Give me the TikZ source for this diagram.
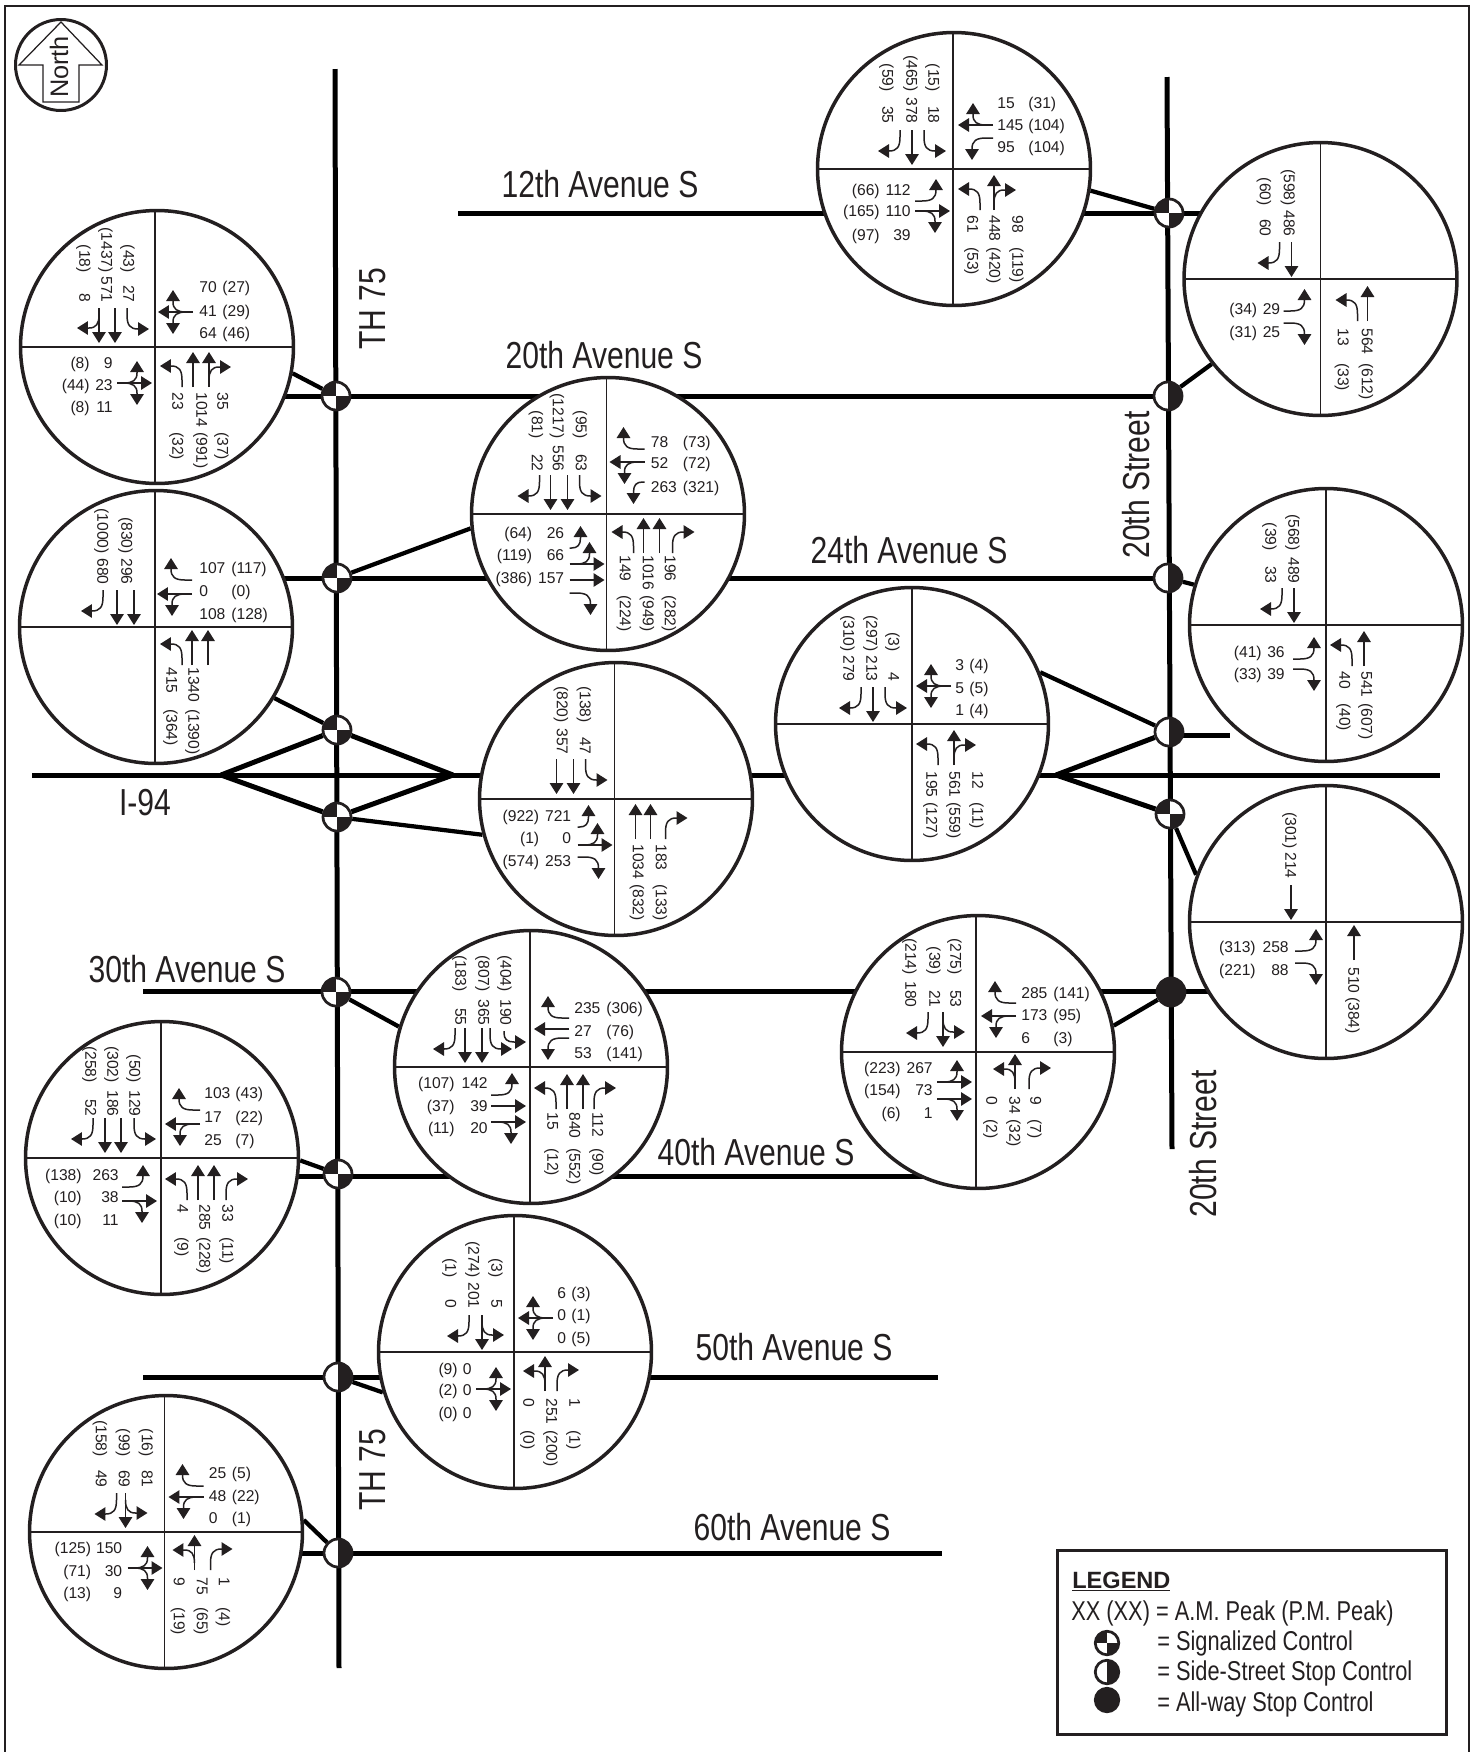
\documentclass[tikz,border=0pt]{standalone}
\usepackage{fontspec}
\setmainfont{Liberation Sans}
\newfontfamily\roadfont[FakeStretch=0.8]{Liberation Sans}
\usetikzlibrary{arrows.meta,backgrounds}
\definecolor{inkc}{HTML}{231F20}

% turning movements, tail at the origin, heading up the page
\tikzset{
  thruarr/.pic={\draw[mv] (0,0) -- (0,-35);},
  ltarr/.pic={\draw[mv] (0,0) -- (0,-7) .. controls (0,-17) and (-3,-21) .. (-11,-21) -- (-22,-21);},
  rtarr/.pic={\draw[mv] (0,0) -- (0,-7) .. controls (0,-17) and (3,-21) .. (11,-21) -- (22,-21);},
  lsarr/.pic={\draw[mv] (0,0) -- (0,-2) .. controls (0,-8) and (-3,-11) .. (-10,-11) -- (-22,-11);},
  tlarr/.pic={\draw[mv] (0,0) -- (0,-35);
    \draw[mv] (0,-7) .. controls (0,-16) and (-3,-20) .. (-10,-20) -- (-22,-20);},
  trarr/.pic={\draw[mv] (0,0) -- (0,-35);
    \draw[mv] (0,-7) .. controls (0,-16) and (3,-20) .. (10,-20) -- (22,-20);},
  tlrarr/.pic={\draw[mv] (0,0) -- (0,-35);
    \draw[mv] (0,-7) .. controls (0,-16) and (-3,-20) .. (-10,-20) -- (-22,-20);
    \draw[mv] (0,-7) .. controls (0,-16) and (3,-20) .. (10,-20) -- (22,-20);},
  % ring sits a little off its cross: the value is that offset
  isect/.style={circle, draw, fill=white, line width=0.07cm, minimum size=5.46cm, inner sep=0pt,
    path picture={\draw[line width=0.024cm] ([xshift=-#1*0.02cm]path picture bounding box.north) -- ([xshift=-#1*0.02cm]path picture bounding box.south);
      \draw[line width=0.024cm] (path picture bounding box.west) -- (path picture bounding box.east);}},
  isect/.default=0
}

% approach arrows: tail distance from the centre, then lane/kind list
\newcommand{\sbarr}[2]{\foreach \lane/\kind in {#2}{\pic[rotate=180] at (\lane,-#1) {\kind};}}
\newcommand{\nbarr}[2]{\foreach \lane/\kind in {#2}{\pic at (\lane,#1) {\kind};}}
\newcommand{\wbarr}[2]{\foreach \lane/\kind in {#2}{\pic[rotate=90] at (#1,\lane) {\kind};}}
\newcommand{\ebarr}[2]{\foreach \lane/\kind in {#2}{\pic[rotate=-90] at (-#1,\lane) {\kind};}}

% volumes: edge of A.M. column, edge of P.M. column, then place/am/pm list
\newcommand{\sbnum}[3]{\foreach \lane/\amv/\pmv in {#3}{
  \node[numv,anchor=east] (s\lane-am) at (\lane,#1) {\amv};
  \node[numv,anchor=east] (s\lane-pm) at (\lane,#2) {(\pmv)};}}
\newcommand{\nbnum}[3]{\foreach \lane/\amv/\pmv in {#3}{
  \node[numv,anchor=west] (n\lane-am) at (\lane,#1) {\amv};
  \node[numv,anchor=west] (n\lane-pm) at (\lane,#2) {(\pmv)};}}
\newcommand{\wbnum}[3]{\foreach \lane/\amv/\pmv in {#3}{
  \node[numh,anchor=west] (w\lane-am) at (#1,\lane) {\amv};
  \node[numh,anchor=west] (w\lane-pm) at (#2,\lane) {(\pmv)};}}
\newcommand{\ebnum}[3]{\foreach \lane/\amv/\pmv in {#3}{
  \node[numh,anchor=east] (e\lane-am) at (#1,\lane) {\amv};
  \node[numh,anchor=east] (e\lane-pm) at (#2,\lane) {(\pmv)};}}

\begin{document}
\begin{tikzpicture}[x=0.02cm,y=-0.02cm,color=inkc]
  \tikzstyle{mv}=[line width=0.03cm, -{Triangle[length=0.22cm,width=0.27cm]}]
  \tikzstyle{numh}=[inner sep=0pt, text height=8pt, text depth=1.6pt, font=\fontsize{8.9}{10}\selectfont]
  \tikzstyle{numv}=[numh, rotate=-90]
  \tikzstyle{ctl}=[circle, draw, fill=white, line width=0.055cm, minimum size=0.56cm, inner sep=0pt]
  \tikzstyle{sigctl}=[ctl, path picture={\fill[inkc] (path picture bounding box.center) rectangle (path picture bounding box.north west);
      \fill[inkc] (path picture bounding box.center) rectangle (path picture bounding box.south east);}]
  \tikzstyle{halfctl}=[ctl, path picture={\fill[inkc] (path picture bounding box.north) rectangle (path picture bounding box.south east);}]
  \tikzstyle{allctl}=[ctl, fill=inkc]
  \tikzstyle{road}=[line width=0.1cm]
  \tikzstyle{link}=[line width=0.085cm]
  \tikzstyle{roadname}=[inner sep=0pt, font=\roadfont\fontsize{21.4}{24}\selectfont]
  \tikzstyle{legendtext}=[inner sep=0pt, anchor=base west, font=\roadfont\fontsize{15.5}{18}\selectfont]

  \useasboundingbox (0,0) rectangle (1478,1752);
  \draw[line width=0.04cm] (5,1752) -- (5,6) -- (1469,6) -- (1469,1752);

  % north arrow
  \node[circle, draw, line width=0.06cm, minimum size=1.82cm, inner sep=0pt] (northring) at (61,65) {};
  \draw[line width=0.025cm] (61,22) -- (102,65) -- (79,65) -- (79,102) -- (43,102) -- (43,65) -- (19,65) -- cycle;
  \node[rotate=90, inner sep=0pt, font=\fontsize{14.4}{16}\selectfont] (northtext) at (59,67) {North};

  % intersections
  \begin{scope}[shift={(155,347)},name prefix=th20-]
    \node[isect=2] (c) at (2,0) {};
    \sbarr{39}{-56/trarr,-40/thruarr,-28/ltarr}
    \wbarr{38}{-35/tlrarr}
    \ebarr{38}{36/tlrarr}
    \nbarr{40}{27/ltarr,38/thruarr,54/trarr}
    \sbnum{-44}{-74}{-70/8/18,-48/571/1437,-26/27/43}
    \wbnum{44}{67}{-60/70/27,-36/41/29,-14/64/46}
    \ebnum{-42}{-65}{16/9/8,38/23/44,60/11/8}
    \nbnum{45}{85}{23/23/32,47/1014/991,68/35/37}
  \end{scope}
  \begin{scope}[shift={(953,169)},name prefix=ave12-]
    \node[isect=1] (c) at (1,0) {};
    \sbarr{39}{-53/rtarr,-41/thruarr,-29/ltarr}
    \wbarr{40}{-44/trarr,-31/ltarr}
    \ebarr{38}{32/ltarr,42/trarr}
    \nbarr{41}{27/ltarr,41/trarr}
    \sbnum{-45}{-77}{-65/35/59,-41/378/465,-19/18/15}
    \wbnum{44}{75}{-66/15/31,-44/145/104,-22/95/104}
    \ebnum{-42}{-73}{21/112/66,42/110/165,66/39/97}
    \nbnum{46}{78}{20/61/53,42/448/420,65/98/119}
  \end{scope}
  \begin{scope}[shift={(1320.5,279)},name prefix=st12-]
    \node[isect] (c) at (0,0) {};
    \sbarr{37}{-41/rtarr,-29/thruarr}
    \ebarr{37}{32/ltarr,44/rtarr}
    \nbarr{42}{37/ltarr,47/thruarr}
    \sbnum{-42}{-73}{-55/60/60,-31/486/598}
    \ebnum{-40}{-63}{30/29/34,53/25/31}
    \nbnum{49}{84}{23/13/33,47/564/612}
  \end{scope}
  \begin{scope}[shift={(606.5,514)},name prefix=ave20-]
    \node[isect=1.5] (c) at (1.5,0) {};
    \sbarr{39}{-67/rtarr,-56/thruarr,-39/thruarr,-27/ltarr}
    \wbarr{38}{-65/rtarr,-52/tlarr,-32/lsarr}
    \ebarr{37}{34/lsarr,50/tlarr,66/thruarr,79/rtarr}
    \nbarr{39}{27/ltarr,37/thruarr,53/thruarr,66/rtarr}
    \sbnum{-42}{-75}{-69/22/81,-48/556/1217,-25/63/95}
    \wbnum{44}{76}{-72/78/73,-51/52/72,-27/263/321}
    \ebnum{-42}{-74}{19/26/64,41/66/119,64/157/386}
    \nbnum{41}{81}{19/149/224,42/1016/949,64/196/282}
  \end{scope}
  \begin{scope}[shift={(155,627)},name prefix=th24-]
    \node[isect=1] (c) at (1,0) {};
    \sbarr{37}{-52/rtarr,-38/thruarr,-21/thruarr}
    \wbarr{37}{-47/rtarr,-33/tlarr}
    \nbarr{38}{27/ltarr,37/thruarr,53/thruarr}
    \sbnum{-42}{-73}{-52/680/1000,-28/296/830}
    \wbnum{44}{76}{-59/107/117,-36/0/0,-13/108/128}
    \nbnum{40}{82}{17/415/364,39/1340/1390}
  \end{scope}
  \begin{scope}[shift={(614.5,799)},name prefix=ramw-]
    \node[isect=1.5] (c) at (1.5,0) {};
    \sbarr{40}{-58/thruarr,-41/thruarr,-29/ltarr}
    \ebarr{37}{28/lsarr,46/tlarr,58/rtarr}
    \nbarr{40}{21/thruarr,36/thruarr,51/rtarr}
    \sbnum{-44}{-76}{-52/357/820,-29/47/138}
    \ebnum{-43}{-75}{17/721/922,39/0/1,62/253/574}
    \nbnum{45}{85}{24/1034/832,47/183/133}
  \end{scope}
  \begin{scope}[shift={(912,724)},name prefix=rame-]
    \node[isect] (c) at (0,0) {};
    \sbarr{37}{-51/rtarr,-39/thruarr,-27/ltarr}
    \wbarr{39}{-38/tlrarr}
    \nbarr{41}{26/ltarr,42/trarr}
    \sbnum{-42}{-72}{-63/279/310,-40/213/297,-18/4/3}
    \wbnum{43}{57}{-59/3/4,-36/5/5,-14/1/4}
    \nbnum{47}{78}{20/195/127,43/561/559,66/12/11}
  \end{scope}
  \begin{scope}[shift={(1326,625)},name prefix=st24-]
    \node[isect] (c) at (0,0) {};
    \sbarr{37}{-44/rtarr,-32/thruarr}
    \ebarr{33}{34/ltarr,44/rtarr}
    \nbarr{41}{26/ltarr,38/thruarr}
    \sbnum{-41}{-74}{-55/33/39,-32/489/568}
    \ebnum{-41}{-64}{27/36/41,49/39/33}
    \nbnum{46}{78}{19/40/40,41/541/607}
  \end{scope}
  \begin{scope}[shift={(1326,922)},name prefix=st94-]
    \node[isect] (c) at (0,0) {};
    \sbarr{37}{-35/thruarr}
    \ebarr{31}{29/ltarr,41/rtarr}
    \nbarr{38}{28/thruarr}
    \sbnum{-43}{-73}{-35/214/301}
    \ebnum{-37}{-70}{25/258/313,48/88/221}
    \nbnum{45}{75}{28/510/384}
  \end{scope}
  \begin{scope}[shift={(530,1067)},name prefix=ave30-]
    \node[isect=1] (c) at (1,0) {};
    \sbarr{39}{-75/rtarr,-65/thruarr,-48/thruarr,-40/ltarr}
    \sbarr{36}{-26/lsarr}
    \wbarr{39}{-49/rtarr,-38/thruarr,-29/ltarr}
    \ebarr{39}{28/ltarr,39/thruarr,55/trarr}
    \nbarr{42}{26/ltarr,37/thruarr,53/thruarr,64/rtarr}
    \sbnum{-41}{-75}{-69/55/183,-46/365/807,-24/190/404}
    \wbnum{44}{76}{-59/235/306,-36/27/76,-14/53/141}
    \ebnum{-42}{-75}{16/142/107,39/39/37,61/20/11}
    \nbnum{45}{81}{23/15/12,45/840/552,68/112/90}
  \end{scope}
  \begin{scope}[shift={(976,1052)},name prefix=st30-]
    \node[isect=2] (c) at (2,0) {};
    \sbarr{40}{-48/rtarr,-33/tlarr}
    \wbarr{40}{-49/rtarr,-36/tlarr}
    \ebarr{39}{30/tlarr,47/trarr}
    \nbarr{37}{39/tlarr,53/rtarr}
    \sbnum{-44}{-77}{-65/180/214,-41/21/39,-20/53/275}
    \wbnum{45}{77}{-59/285/141,-37/173/95,-14/6/3}
    \ebnum{-43}{-75}{16/267/223,38/73/154,61/1/6}
    \nbnum{44}{67}{16/0/2,39/34/32,60/9/7}
  \end{scope}
  \begin{scope}[shift={(161,1158)},name prefix=th40-]
    \node[isect=1] (c) at (1,0) {};
    \sbarr{40}{-68/rtarr,-56/thruarr,-40/thruarr,-27/ltarr}
    \wbarr{39}{-48/rtarr,-34/tlarr}
    \ebarr{39}{29/ltarr,43/trarr}
    \nbarr{42}{26/ltarr,37/thruarr,53/thruarr,65/rtarr}
    \sbnum{-41}{-75}{-70/52/258,-48/186/302,-26/129/50}
    \wbnum{43}{74}{-65/103/43,-41/17/22,-18/25/7}
    \ebnum{-42}{-79}{17/263/138,39/38/10,62/11/10}
    \nbnum{46}{79}{22/4/9,44/285/228,67/33/11}
  \end{scope}
  \begin{scope}[shift={(514,1352)},name prefix=th50-]
    \node[isect=1] (c) at (1,0) {};
    \sbarr{37}{-45/rtarr,-32/tlarr}
    \wbarr{39}{-34/tlrarr}
    \ebarr{38}{37/tlrarr}
    \nbarr{39}{31/tlarr,43/rtarr}
    \sbnum{-43}{-74}{-63/0/1,-40/201/274,-17/5/3}
    \wbnum{43}{57}{-59/6/3,-37/0/1,-14/0/5}
    \ebnum{-42}{-56}{17/0/9,38/0/2,61/0/0}
    \nbnum{46}{78}{15/0/0,38/251/200,61/1/1}
  \end{scope}
  \begin{scope}[shift={(164.5,1532)},name prefix=th60-]
    \node[isect=1.5] (c) at (1.5,0) {};
    \sbarr{39}{-48/rtarr,-39/tlarr}
    \wbarr{39}{-46/rtarr,-35/tlarr}
    \ebarr{37}{36/tlrarr}
    \nbarr{38}{30/tlarr,46/rtarr}
    \sbnum{-44}{-75}{-63/49/158,-40/69/99,-17/81/16}
    \wbnum{44}{67}{-59/25/5,-36/48/22,-14/0/1}
    \ebnum{-42}{-73}{16/150/125,39/30/71,61/9/13}
    \nbnum{45}{75}{15/9/19,38/75/65,60/1/4}
  \end{scope}

  % traffic control marks
  \node[sigctl] (ctlth20) at (336,396) {};
  \node[sigctl] (ctlth24) at (337,578) {};
  \node[sigctl] (ctlthn) at (337,730) {};
  \node[sigctl] (ctlths) at (337,817) {};
  \node[sigctl] (ctlth30) at (336,992) {};
  \node[sigctl] (ctlth40) at (338,1174) {};
  \node[halfctl] (ctlth50) at (338,1377) {};
  \node[halfctl] (ctlth60) at (338,1553) {};
  \node[sigctl] (ctlst12) at (1169,213) {};
  \node[halfctl] (ctlst20) at (1168,396) {};
  \node[halfctl] (ctlst24) at (1168,578) {};
  \node[halfctl] (ctlstn) at (1169,732) {};
  \node[sigctl] (ctlsts) at (1170,814) {};
  \node[allctl] (ctlst30) at (1171,992) {};

  % road names
  \node[roadname] (n12) at (600,184) {12th Avenue S};
  \node[roadname] (n20) at (604,355) {20th Avenue S};
  \node[roadname] (n24) at (909,550) {24th Avenue S};
  \node[roadname] (n30) at (187,969) {30th Avenue S};
  \node[roadname] (n40) at (756,1152) {40th Avenue S};
  \node[roadname] (n50) at (794,1347) {50th Avenue S};
  \node[roadname] (n60) at (792,1527) {60th Avenue S};
  \node[roadname] (ni94) at (145,803) {I-94};
  \node[roadname, rotate=90] (nthn) at (373,309) {TH 75};
  \node[roadname, rotate=90] (nths) at (373,1470) {TH 75};
  \node[roadname, rotate=90] (nstn) at (1136,485) {20th Street};
  \node[roadname, rotate=90] (nsts) at (1203,1144) {20th Street};

  % legend
  \node[draw, line width=0.06cm, minimum width=7.8cm, minimum height=3.68cm, inner sep=0pt] (legendbox) at (1252,1642) {};
  \node[legendtext, font=\bfseries\fontsize{13.4}{16}\selectfont] (legendhead) at (1072,1588) {\underline{LEGEND}};
  \node[legendtext] (legendam) at (1071,1620) {XX (XX) = A.M. Peak (P.M. Peak)};
  \node[legendtext] (legendsig) at (1157,1650) {= Signalized Control};
  \node[legendtext] (legendside) at (1157,1680) {= Side-Street Stop Control};
  \node[legendtext] (legendall) at (1157,1711) {= All-way Stop Control};
  \node[sigctl, minimum size=0.47cm] (keysig) at (1107,1643) {};
  \node[halfctl, minimum size=0.47cm] (keyside) at (1107,1672) {};
  \node[allctl, minimum size=0.47cm] (keyall) at (1107,1700) {};

  % roads and the leaders go under everything else
  \begin{pgfonlayer}{background}
    \coordinate (thtop) at (335,69);
    \coordinate (thend) at (339,1668);
    \coordinate (sttop) at (1167,77);
    \coordinate (stend) at (1172,1149);
    \coordinate (i94w) at (32,775);
    \coordinate (i94e) at (1440,775);
    \coordinate (diaw) at (221,775);
    \coordinate (diae) at (453,775);
    \coordinate (diax) at (1056,775);
    \coordinate (stubend) at (1230,735);
    \coordinate (r12w) at (458,213);
    \coordinate (r12e) at (1240,213);
    \coordinate (r20w) at (200,396);
    \coordinate (r24w) at (200,578);
    \coordinate (r30w) at (143,991);
    \coordinate (r30e) at (1240,991);
    \coordinate (r40w) at (250,1176);
    \coordinate (r40e) at (950,1176);
    \coordinate (r50w) at (143,1377);
    \coordinate (r50e) at (938,1377);
    \coordinate (r60w) at (250,1553);
    \coordinate (r60e) at (942,1553);

    \draw[road] (thtop) -- (thend);
    \draw[road] (sttop) -- (stend);
    \draw[road] (i94w) -- (i94e);
    \draw[road] (r12w) -- (r12e);
    \draw[road] (r20w) -- (ctlst20);
    \draw[road] (r24w) -- (ctlst24);
    \draw[road] (r30w) -- (r30e);
    \draw[road] (r40w) -- (r40e);
    \draw[road] (r50w) -- (r50e);
    \draw[road] (r60w) -- (r60e);
    \draw[road] (diaw) -- (ctlthn);
    \draw[road] (diaw) -- (ctlths);
    \draw[road] (diae) -- (ctlthn);
    \draw[road] (diae) -- (ctlths);
    \draw[road] (diax) -- (ctlstn);
    \draw[road] (diax) -- (ctlsts);
    \draw[road] (ctlstn |- stubend) -- (stubend);

    \draw[link] (th20-c.-11.5) -- (ctlth20);
    \draw[link] (ave12-c.-9) -- (ctlst12);
    \draw[link] (st12-c.218.3) -- (ctlst20);
    \draw[link] (ave20-c.186.7) -- (ctlth24);
    \draw[link] (th24-c.-31) -- (ctlthn);
    \draw[link] (ramw-c.195.9) -- (ctlths);
    \draw[link] (rame-c.22.6) -- (ctlstn);
    \draw[link] (st24-c.163) -- (ctlst24);
    \draw[link] (st94-c.160) -- (ctlsts);
    \draw[link] (ave30-c.163) -- (ctlth30);
    \draw[link] (st30-c.11) -- (ctlst30);
    \draw[link] (th40-c.-1.6) -- (ctlth40);
    \draw[link] (th50-c.197) -- (ctlth50);
    \draw[link] (th60-c.5.4) -- (ctlth60);
  \end{pgfonlayer}
\end{tikzpicture}
\end{document}
